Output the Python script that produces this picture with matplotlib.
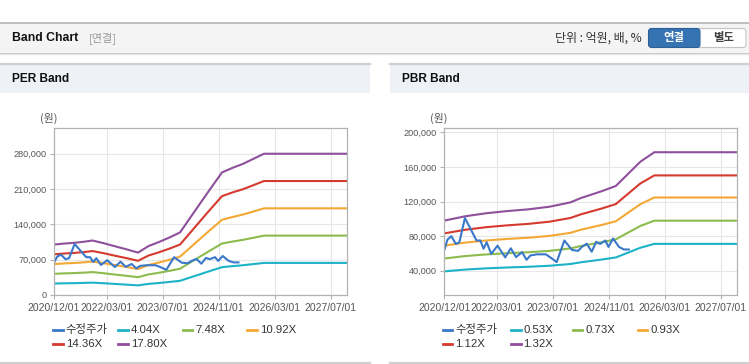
import matplotlib
matplotlib.use("Agg")
import matplotlib.pyplot as plt
from matplotlib.patches import Rectangle, FancyBboxPatch
from matplotlib.lines import Line2D
from matplotlib.transforms import Affine2D
from matplotlib.ticker import FuncFormatter

# ---------------- data ----------------
date_labels = ["2020/12/01", "2022/03/01", "2023/07/01", "2024/11/01", "2026/03/01", "2027/07/01"]

# months since 2020/12 for band points
per_band_month = [0, 3, 6, 9, 11, 14, 18, 21, 24, 27, 30, 33, 36, 40, 44, 48, 51, 54, 57, 60, 84]
per_404 = [22700, 23200, 23500, 24100, 24500, 23400, 21700, 20400, 19100, 22000, 23800, 25900, 28100,
           37200, 46300, 55200, 57200, 59000, 61300, 63600, 63600]
per_748 = [42000, 42900, 43500, 44500, 45400, 43300, 40100, 37800, 35300, 40800, 44100, 47900, 52100,
           68900, 85700, 102100, 105900, 109300, 113500, 117700, 117700]
per_1092 = [61300, 62600, 63500, 65000, 66300, 63200, 58600, 55200, 51500, 59500, 64400, 69900, 76100,
            100600, 125200, 149100, 154600, 159500, 165600, 171800, 171800]
per_1436 = [80700, 82300, 83500, 85500, 87100, 83100, 77000, 72600, 67800, 78200, 84700, 92000, 100000,
            132300, 164600, 196000, 203300, 209700, 217800, 225900, 225900]
per_1780 = [100000, 102000, 103500, 106000, 108000, 103000, 95500, 90000, 84000, 97000, 105000, 114000, 124000,
            164000, 204000, 243000, 252000, 260000, 270000, 280000, 280000]

pbr_band_month = [0, 6, 12, 18, 24, 30, 36, 39, 42, 45, 49, 52, 56, 60, 84]
pbr_053 = [39300, 41400, 42800, 43800, 44600, 45800, 47800, 49800, 51400, 53000, 55400, 60200, 66600, 71100, 71100]
pbr_073 = [54200, 57000, 58900, 60300, 61400, 63000, 65800, 68600, 70800, 73000, 76300, 83000, 91800, 97900, 97900]
pbr_093 = [69000, 72600, 75000, 76800, 78200, 80300, 83800, 87400, 90200, 93000, 97200, 105700, 116900, 124700, 124700]
pbr_112 = [83200, 87400, 90400, 92500, 94200, 96700, 101000, 105200, 108600, 112000, 117100, 127300, 140900, 150200, 150200]
pbr_132 = [98000, 103000, 106500, 109000, 111000, 114000, 119000, 124000, 128000, 132000, 138000, 150000, 166000, 177000, 177000]

price_month = [0, 0.9, 2, 3.3, 4.3, 5.9, 7.8, 9.2, 10.3, 11.2, 12.1, 13.4, 15.2, 17.4, 19, 20.5, 22.2, 23.5,
               24.6, 26.5, 29, 30.8, 32.1, 34.3, 36.5, 38.2, 39.3, 40.7, 42.1, 43.4, 44.5, 46, 46.9, 48.2,
               49.9, 51.3, 52.7]
price = [64000, 76000, 80000, 71000, 73000, 101000, 86000, 75000, 75000, 65500, 73000, 59500, 69000, 55500,
         66000, 55800, 61500, 52700, 57700, 59000, 59000, 54000, 50000, 75000, 64000, 63000, 67600, 71300,
         62000, 73500, 71000, 75000, 67600, 77300, 67600, 64600, 64600]

per_labels = ["수정주가", "4.04X", "7.48X", "10.92X", "14.36X", "17.80X"]
pbr_labels = ["수정주가", "0.53X", "0.73X", "0.93X", "1.12X", "1.32X"]
per_yticks = [0, 70000, 140000, 210000, 280000]
pbr_yticks = [40000, 80000, 120000, 160000, 200000]

colors = ["#3a78c9", "#1db3c7", "#8cbb4e", "#f4a834", "#d43a2e", "#8e4f9b"]

# ---------------- figure ----------------
W, H = 749, 364
FONT = ['Liberation Sans', 'Noto Sans CJK KR', 'DejaVu Sans']
KFONT = ['Noto Sans CJK KR', 'DejaVu Sans']
plt.rcParams['font.family'] = FONT

fig = plt.figure(figsize=(W / 100, H / 100), dpi=100)
fig.patch.set_facecolor('white')
pix = Affine2D().scale(1 / W, -1 / H).translate(0, 1) + fig.transFigure


def rect(x0, y0, x1, y1, fc, ec='none', lw=0, z=0):
    r = Rectangle((x0, y0), x1 - x0, y1 - y0, transform=pix, facecolor=fc, edgecolor=ec, lw=lw, zorder=z)
    fig.add_artist(r)


def hline(x0, x1, y, color, lw=1.0, z=1):
    fig.add_artist(Line2D([x0, x1], [y, y], transform=pix, color=color, lw=lw, zorder=z))


def text(x, y, s, **kw):
    fig.text(x, y, s, transform=pix, **kw)


# top header bar
rect(0, 22, W, 52, '#f4f4f4')
hline(0, W, 22.5, '#b5b5b5', 1.2)
hline(0, W, 52.5, '#c6c6c6', 1.0)
hline(0, W, 53.5, '#e6e6e6', 1.0)
text(12, 38, "Band Chart", fontsize=8.8, fontweight='bold', color='#111', va='center', ha='left')
text(89, 38, "[연결]", fontsize=8, color='#999999', va='center', ha='left', family=KFONT)
text(642, 38.5, "단위 : 억원, 배, %", fontsize=8.6, color='#333', va='center', ha='right', family=KFONT)

# buttons
fig.add_artist(FancyBboxPatch((650, 28.5), 96, 19, boxstyle="round,pad=0,rounding_size=3", transform=pix,
                              facecolor='white', edgecolor='#c4c4c4', lw=0.8, zorder=2))
fig.add_artist(FancyBboxPatch((648.5, 28.5), 51.5, 19, boxstyle="round,pad=0,rounding_size=3", transform=pix,
                              facecolor='#3673b3', edgecolor='#2d5f98', lw=0.8, zorder=3))
rect(692, 28.9, 700, 47.1, '#3673b3', z=3)
text(674, 38, "연결", fontsize=8.2, fontweight='bold', color='white', va='center', ha='center', family=KFONT, zorder=4)
text(724, 38, "별도", fontsize=8.2, fontweight='bold', color='#444', va='center', ha='center', family=KFONT, zorder=4)

# panels
for (px0, px1, title) in [(0, 370, "PER Band"), (390, W, "PBR Band")]:
    rect(px0, 64, px1, 93, '#eef1f6')
    hline(px0, px1, 64.3, '#cfcfcf', 1.6)
    hline(px0, px1, 362.8, '#cfcfcf', 1.6)
    text(px0 + 12, 79.5, title, fontsize=8.6, fontweight='bold', color='#111', va='center', ha='left')

# tick positions (months since 2020/12)
tick_pos = [(int(s[:4]) - 2020) * 12 + int(s[5:7]) - 12 for s in date_labels]


def make_axes(x0, x1, y0, y1, ylim, yticks):
    ax = fig.add_axes([x0 / W, 1 - y1 / H, (x1 - x0) / W, (y1 - y0) / H])
    ax.set_facecolor('white')
    ax.set_xlim(0, 83.7)
    ax.set_ylim(*ylim)
    ax.set_xticks(tick_pos)
    ax.set_xticklabels(date_labels, fontsize=7.5, color='#555555')
    ax.set_yticks(yticks)
    ax.yaxis.set_major_formatter(FuncFormatter(lambda v, p: f"{int(v):,}"))
    ax.tick_params(axis='y', labelsize=6.6, labelcolor='#555555')
    ax.grid(True, color='#e7e7e7', lw=0.8)
    ax.set_axisbelow(True)
    for sp in ax.spines.values():
        sp.set_color('#b3b3b3')
        sp.set_linewidth(0.9)
    ax.tick_params(length=3, width=0.8, color='#b3b3b3', pad=2.5)
    return ax


ax1 = make_axes(54, 347, 128, 295, (0, 331000), per_yticks)
ax2 = make_axes(444.3, 737.3, 128, 295, (12000, 205000), pbr_yticks)

lw = 1.5
ax1.plot(per_band_month, per_404, color=colors[1], lw=lw)
ax1.plot(per_band_month, per_748, color=colors[2], lw=lw)
ax1.plot(per_band_month, per_1092, color=colors[3], lw=lw)
ax1.plot(per_band_month, per_1436, color=colors[4], lw=lw)
ax1.plot(per_band_month, per_1780, color=colors[5], lw=lw)
ax1.plot(price_month, price, color=colors[0], lw=lw)

ax2.plot(pbr_band_month, pbr_053, color=colors[1], lw=lw)
ax2.plot(pbr_band_month, pbr_073, color=colors[2], lw=lw)
ax2.plot(pbr_band_month, pbr_093, color=colors[3], lw=lw)
ax2.plot(pbr_band_month, pbr_112, color=colors[4], lw=lw)
ax2.plot(pbr_band_month, pbr_132, color=colors[5], lw=lw)
ax2.plot(price_month, price, color=colors[0], lw=lw)

text(49, 118, "(원)", fontsize=7.8, color='#555', va='center', ha='center', family=KFONT)
text(439, 118, "(원)", fontsize=7.8, color='#555', va='center', ha='center', family=KFONT)

# legends
per_leg_pos = [(53.3, 330), (118.3, 330), (182.7, 330), (247.3, 330), (53.3, 344), (118.3, 344)]
pbr_leg_pos = [(442.7, 330), (511, 330), (572.7, 330), (637.7, 330), (442.7, 344), (511, 344)]
for labels, positions in [(per_labels, per_leg_pos), (pbr_labels, pbr_leg_pos)]:
    for i, (lab, (lx, ly)) in enumerate(zip(labels, positions)):
        fig.add_artist(Line2D([lx, lx + 9.5], [ly, ly], transform=pix, color=colors[i], lw=2.0, zorder=3))
        text(lx + 12.5, ly, lab, fontsize=8.2, color='#333', va='center', ha='left')

fig.savefig("out.png", dpi=100, facecolor='white')
